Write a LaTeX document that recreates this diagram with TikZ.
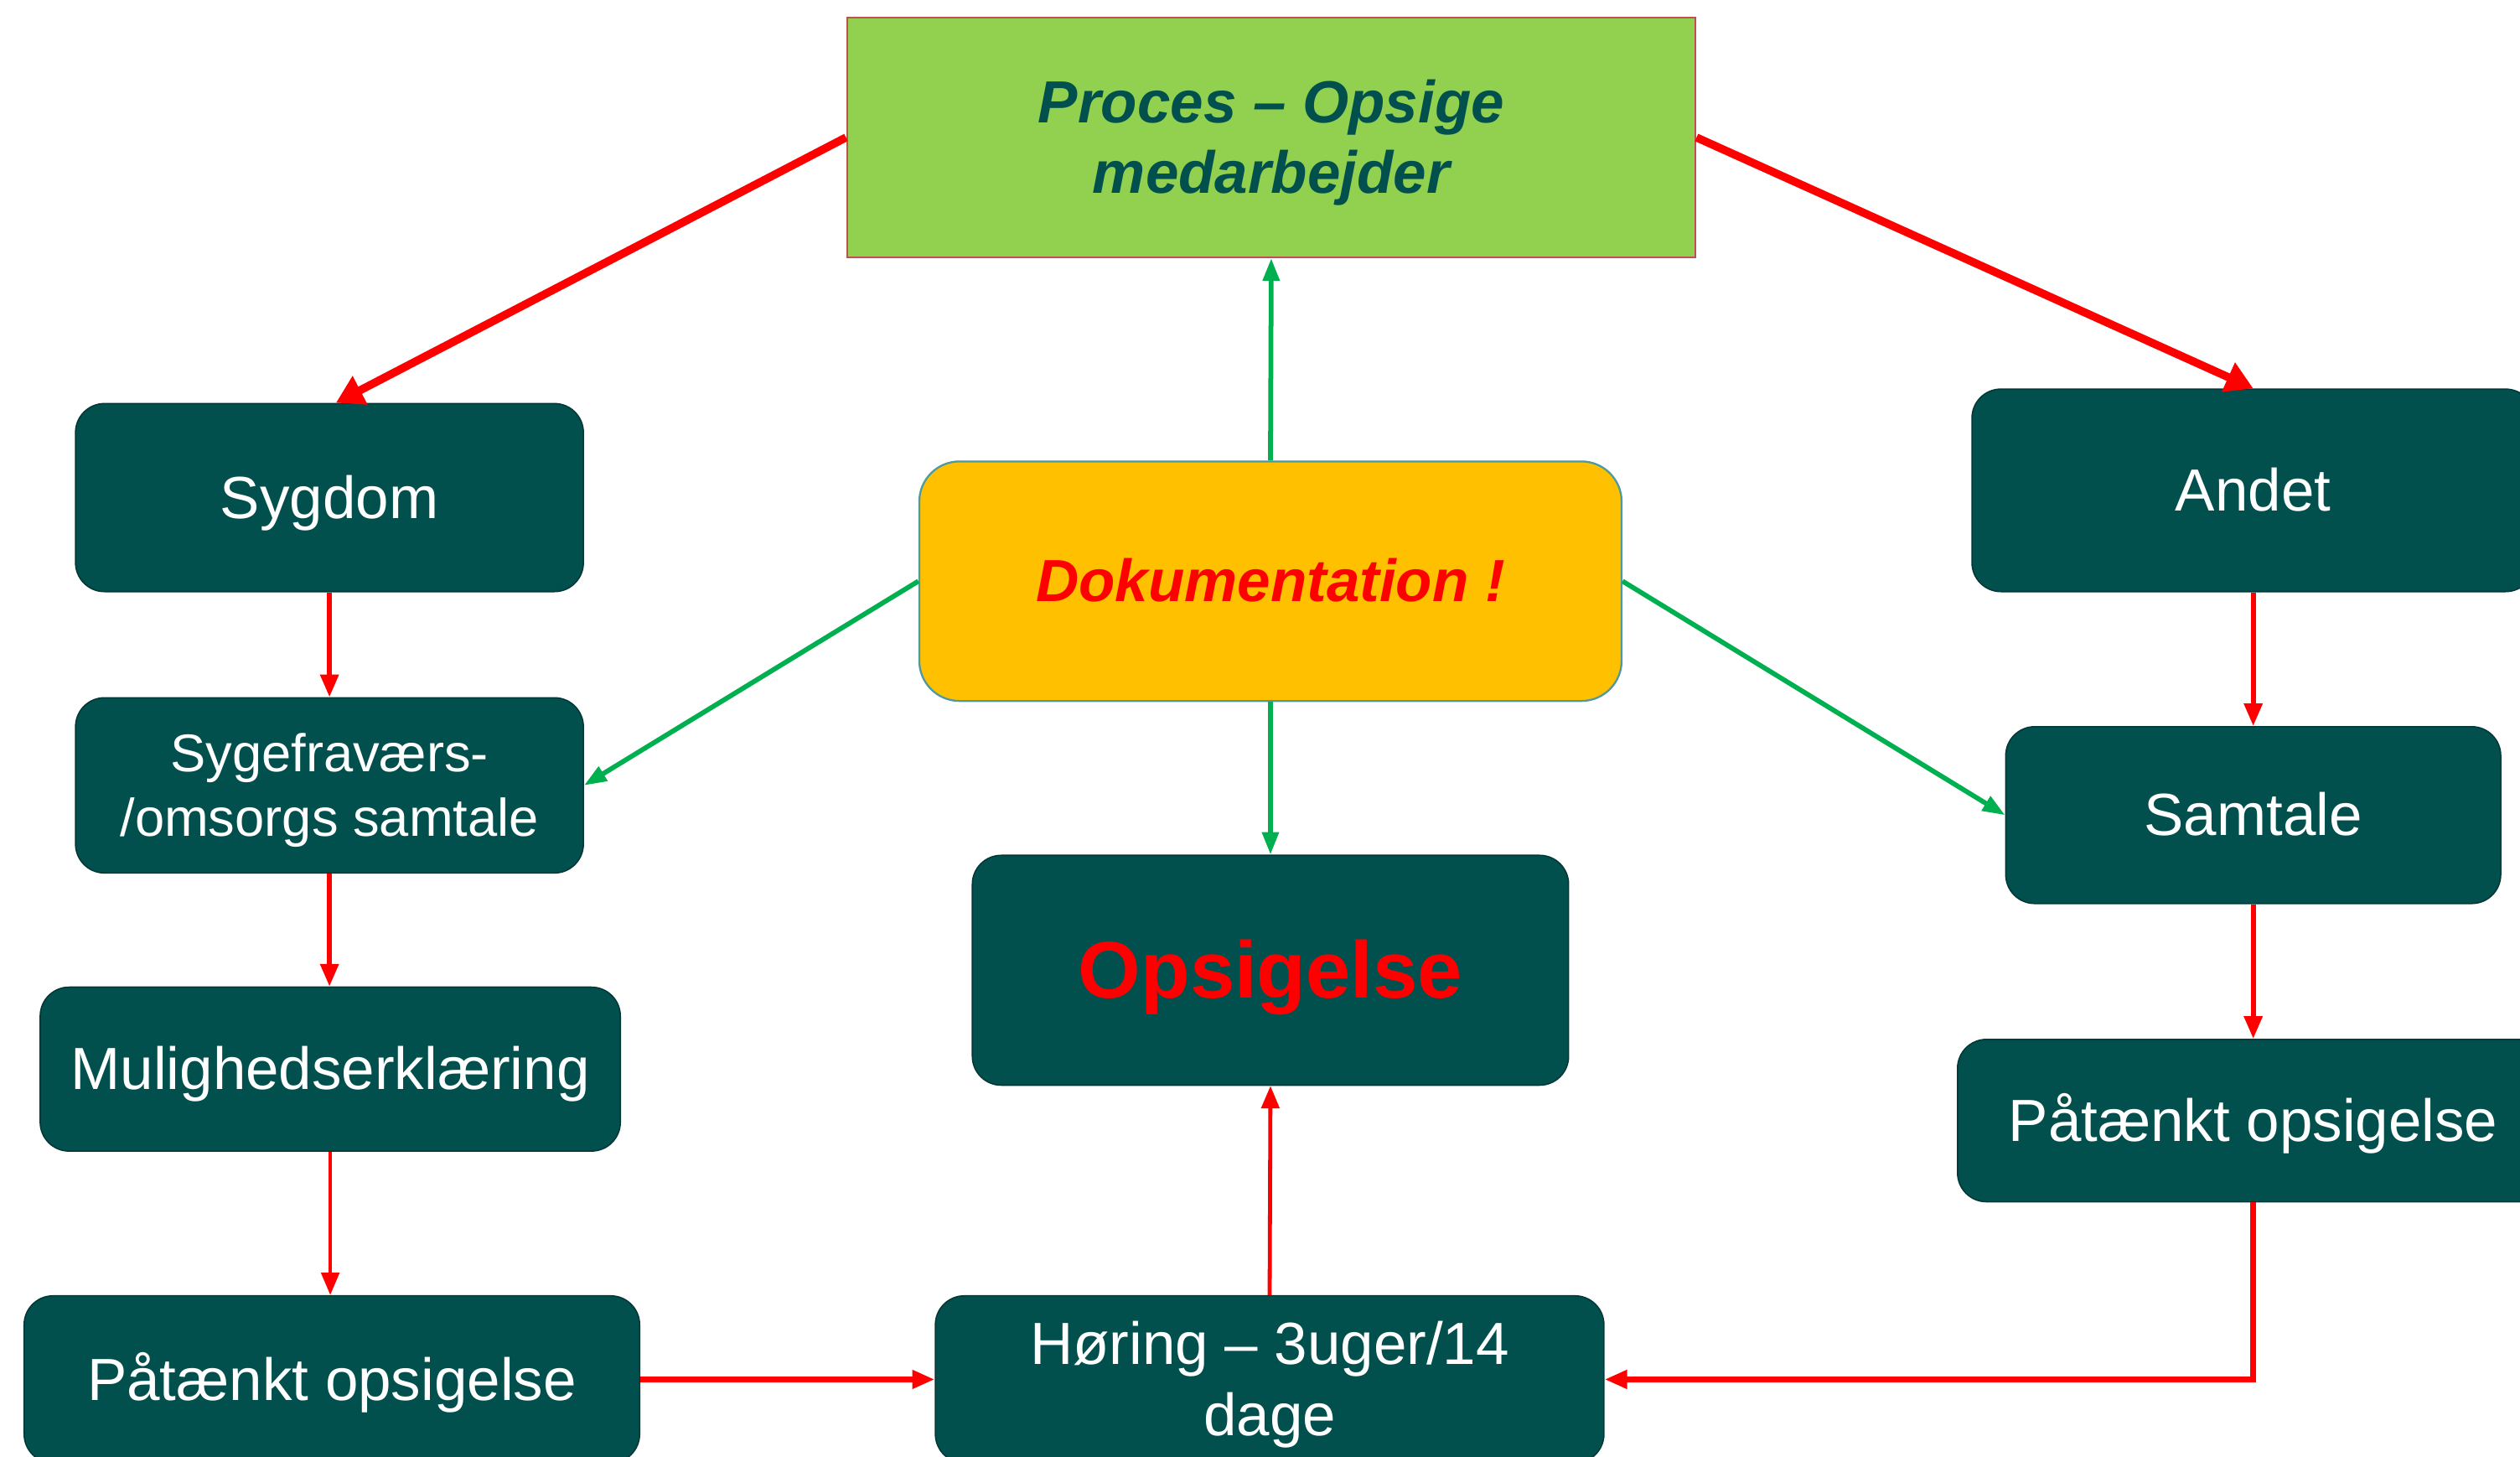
\documentclass[tikz,border=0pt]{standalone}
\usepackage{fontspec}
\setmainfont{Liberation Sans}
\usetikzlibrary{arrows.meta}
\definecolor{teal}{HTML}{02504E}
\definecolor{lgreen}{HTML}{92D050}
\definecolor{agreen}{HTML}{00B050}
\definecolor{ared}{HTML}{FF0000}
\definecolor{gold}{HTML}{FFC000}
\definecolor{boxred}{HTML}{C0504D}
\definecolor{dokborder}{HTML}{4E9A9E}
\newcommand\ppstrut{\rule[-0.212em]{0pt}{1.117em}}
\tikzset{
  tealbox/.style={rectangle, rounded corners=18pt, fill=teal, draw=teal!70!black, line width=0.8pt,
    text=white, align=center, inner sep=0pt, font=\fontsize{37}{44}\selectfont},
  redarrow/.style={draw=ared, line width=3pt, -{Triangle[length=14pt,width=11pt]}},
  bigredarrow/.style={draw=ared, line width=5pt, -{Triangle[length=17pt,width=19pt]}},
  greenarrow/.style={draw=agreen, line width=3pt, -{Triangle[length=14pt,width=10pt]}}
}
\begin{document}
\begin{tikzpicture}[x=1pt,y=-1pt]
\useasboundingbox (0,0) rectangle (1568,906);
\clip (0,0) rectangle (1568,906);
\fill[white] (0,0) rectangle (1568,906);

\node[rectangle, fill=lgreen, draw=boxred, line width=1.2pt, minimum width=528pt, minimum height=149pt,
  inner sep=0pt, align=center, text=teal, font=\fontsize{37}{44}\selectfont\bfseries\itshape]
  (top) at (791,85.5) {\ppstrut Proces – Opsige\\\ppstrut medarbejder};

\node[tealbox, minimum width=316pt, minimum height=117pt] (syg) at (205,309.5) {\ppstrut Sygdom};
\node[tealbox, minimum width=316pt, minimum height=109pt, font=\fontsize{33}{40}\selectfont] (sfv) at (205,488.5) {\ppstrut Sygefraværs-\\\ppstrut /omsorgs samtale};
\node[tealbox, minimum width=361pt, minimum height=102pt] (mul) at (205.5,665) {\ppstrut Mulighedserklæring};
\node[tealbox, minimum width=383pt, minimum height=104pt] (patL) at (206.5,858) {\ppstrut Påtænkt opsigelse};
\node[tealbox, minimum width=416pt, minimum height=104pt] (hor) at (790,858) {\ppstrut Høring – 3uger/14\\\ppstrut dage};
\node[tealbox, minimum width=371pt, minimum height=143pt, text=ared, font=\fontsize{50}{56}\selectfont\bfseries] (ops) at (790.5,603.5) {\ppstrut Opsigelse};
\node[rectangle, rounded corners=25pt, fill=gold, draw=dokborder, line width=1.2pt, minimum width=437pt, minimum height=149pt,
  inner sep=0pt, align=center, text=ared, font=\fontsize{37}{44}\selectfont\bfseries\itshape]
  (dok) at (790.5,361.5) {\ppstrut Dokumentation !};
\node[tealbox, minimum width=350pt, minimum height=126pt] (andet) at (1402,305) {\ppstrut Andet};
\node[tealbox, minimum width=308pt, minimum height=110pt] (sam) at (1402,507) {\ppstrut Samtale};
\node[tealbox, minimum width=368pt, minimum height=101pt] (patR) at (1402,697) {\ppstrut Påtænkt opsigelse};

% top red arrows
\draw[bigredarrow] (top.west) -- ([xshift=4pt]syg.north);
\draw[bigredarrow] (top.east) -- (andet.north);

% green arrows from Dokumentation
\draw[greenarrow] (dok.north) -- (top.south);
\draw[greenarrow] (dok.west) -- (sfv.east);
\draw[greenarrow] (dok.east) -- (sam.west);
\draw[greenarrow] (dok.south) -- (ops.north);

% left column
\draw[redarrow] (syg.south) -- (sfv.north);
\draw[redarrow] (sfv.south) -- (sfv.south |- mul.north);
\draw[redarrow, line width=2.5pt] (mul.south) -- (mul.south |- patL.north);

% right column
\draw[redarrow] (andet.south) -- (sam.north);
\draw[redarrow] (sam.south) -- (patR.north);

% bottom
\draw[redarrow, line width=3.5pt] (patL.east) -- (hor.west);
\draw[redarrow, line width=3.5pt] (patR.south) |- (hor.east);
\draw[redarrow, line width=2.5pt] (hor.north) -- (ops.south);
\end{tikzpicture}
\end{document}
